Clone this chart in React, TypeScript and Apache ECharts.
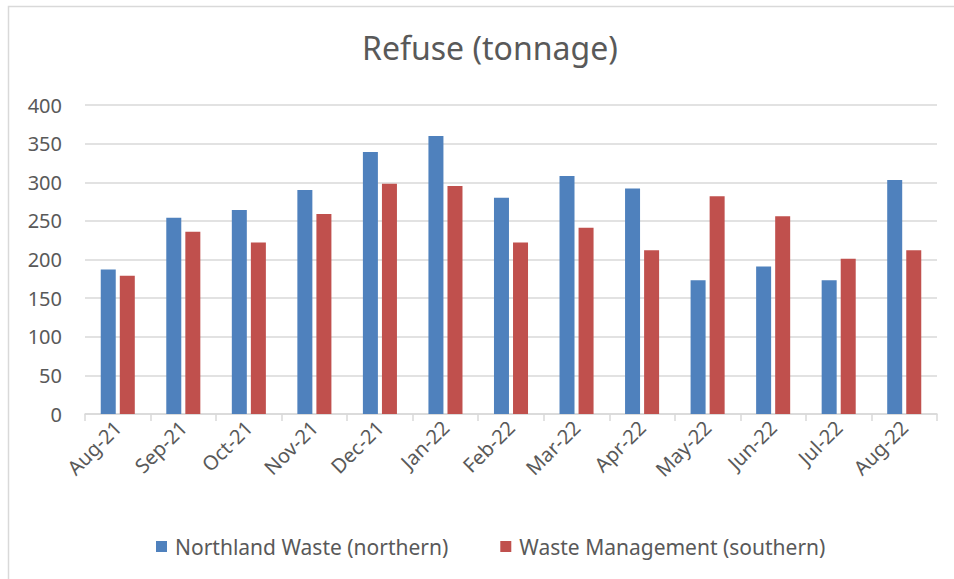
import React, { useEffect, useRef } from "react";
import * as echarts from "echarts";

const categories = ["Aug-21", "Sep-21", "Oct-21", "Nov-21", "Dec-21", "Jan-22", "Feb-22", "Mar-22", "Apr-22", "May-22", "Jun-22", "Jul-22", "Aug-22"];
const northland = [187, 254, 264, 290, 339, 360, 280, 308, 292, 173, 191, 173, 303];
const wasteMgmt = [179, 236, 222, 259, 298, 295, 222, 241, 212, 282, 256, 201, 212];
const seriesNames = ["Northland Waste (northern)", "Waste Management (southern)"];
const titleText = "Refuse (tonnage)";

const FONT = "'Noto Sans', 'Open Sans', sans-serif";
const TEXT = "#595959";
const GRID = "#d9d9d9";

export default function App() {
  const ref = useRef<HTMLDivElement>(null);
  useEffect(() => {
    if (!ref.current) return;
    const chart = echarts.init(ref.current, undefined, { renderer: "svg" });
    chart.setOption({
      animation: false,
      backgroundColor: "#ffffff",
      title: {
        text: titleText,
        left: 357,
        top: 26,
        textStyle: { fontFamily: FONT, fontSize: 32, fontWeight: "normal", color: TEXT },
      },
      graphic: [
        {
          type: "rect",
          shape: { x: 8.5, y: 6.5, width: 1000, height: 1000 },
          style: { fill: "none", stroke: GRID, lineWidth: 1.5 },
          silent: true,
        },
      ],
      legend: {
        data: seriesNames,
        left: 151,
        top: 531,
        itemWidth: 11,
        itemHeight: 11,
        itemGap: 52,
        icon: "rect",
        textStyle: { fontFamily: FONT, fontSize: 21, color: TEXT, padding: [0, 0, 0, 3] },
      },
      grid: { left: 85, right: 17, top: 105, bottom: 165, containLabel: false },
      xAxis: {
        type: "category",
        data: categories,
        axisLine: { lineStyle: { color: GRID, width: 1.5 } },
        axisTick: { show: true, length: 7, lineStyle: { color: GRID, width: 1.5 }, alignWithLabel: false },
        axisLabel: { rotate: 45, margin: 10, fontFamily: FONT, fontSize: 20, color: TEXT },
      },
      yAxis: {
        type: "value",
        min: 0,
        max: 400,
        interval: 50,
        axisLine: { show: false },
        axisTick: { show: false },
        splitLine: { lineStyle: { color: GRID, width: 1.5 } },
        axisLabel: { margin: 23, fontFamily: FONT, fontSize: 20, color: TEXT },
      },
      series: [
        {
          name: seriesNames[0],
          type: "bar",
          data: northland,
          barWidth: 15,
          barGap: "27%",
          itemStyle: { color: "#4f81bd" },
        },
        {
          name: seriesNames[1],
          type: "bar",
          data: wasteMgmt,
          barWidth: 15,
          barGap: "27%",
          itemStyle: { color: "#c0504d" },
        },
      ],
    });
    return () => chart.dispose();
  }, []);
  return <div ref={ref} style={{ width: 954, height: 579, position: "absolute", left: 0, top: 0 }} />;
}
